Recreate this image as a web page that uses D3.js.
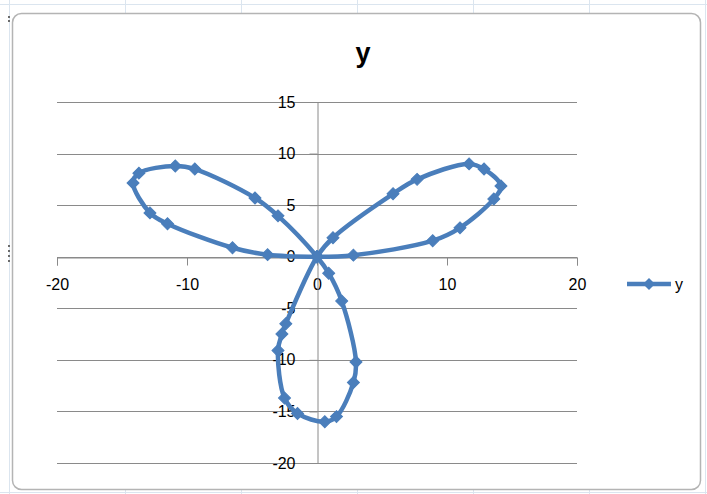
<!DOCTYPE html>
<html>
<head>
<meta charset="utf-8">
<script src="https://cdn.jsdelivr.net/npm/d3@7"></script>
<style>
  html, body { margin: 0; padding: 0; background: #fff; }
  svg { display: block; }
  text { font-family: "Liberation Sans", Arial, sans-serif; fill: #000; }
</style>
</head>
<body>
<svg id="chart" width="707" height="494"></svg>
<script>
// Three-leaf rose, traced point by point: right leaf, bottom leaf, left leaf.
const seriesName = "y";
const xValues = [
  0, 2.8, 8.9, 11.0, 13.6, 14.15, 12.85, 11.7, 7.7, 5.85, 1.23, 0,
  -2.4, -2.7, -3.0, -2.5, -1.5, 0.6, 1.5, 2.8, 3.0, 1.9, 0.9, 0,
  -3.0, -4.77, -9.4, -10.9, -13.7, -14.15, -12.85, -11.5, -6.5, -3.8, 0
];
const yValues = [
  0, 0.15, 1.55, 2.8, 5.6, 6.86, 8.5, 9.0, 7.5, 6.1, 1.84, 0,
  -6.5, -7.5, -9.1, -13.7, -15.2, -16.0, -15.5, -12.2, -10.2, -4.3, -1.6, 0,
  3.96, 5.7, 8.5, 8.8, 8.1, 7.15, 4.25, 3.2, 0.87, 0.2, 0
];
const xTicks = [-20, -10, 0, 10, 20];
const yTicks = [15, 10, 5, 0, -5, -10, -15, -20];

const points = xValues.map((x, i) => ({ x, y: yValues[i] }));

const svg = d3.select("#chart");
const blue = "#4A7EBB";
const gridColor = "#8a8a8a";
const plainNumber = d => String(d);

// worksheet cells behind the chart object
const sheet = svg.append("g").attr("stroke", "#dbe5ef").attr("stroke-width", 1);
[9, 125, 241, 357, 473, 589, 705].forEach(cx => {
  sheet.append("line").attr("x1", cx + 0.5).attr("x2", cx + 0.5).attr("y1", 0).attr("y2", 494);
});
[4, 492].forEach(cy => {
  sheet.append("line").attr("x1", 0).attr("x2", 707).attr("y1", cy + 0.5).attr("y2", cy + 0.5);
});

// chart area
svg.append("rect")
  .attr("x", 12.5).attr("y", 13.5)
  .attr("width", 688).attr("height", 476)
  .attr("rx", 9).attr("ry", 9)
  .attr("fill", "#fff")
  .attr("stroke", "#b4b4b4")
  .attr("stroke-width", 1.5);

// selection handles on the chart frame
const handles = svg.append("g").attr("fill", "#6b6b6b");
[[8, 16], [8, 20], [8, 245], [8, 250], [8, 255], [8, 260]].forEach(([hx, hy]) => {
  handles.append("rect").attr("x", hx).attr("y", hy).attr("width", 2).attr("height", 2);
});

const x = d3.scaleLinear().domain([-20, 20]).range([57, 577]);
const y = d3.scaleLinear().domain([-20, 15]).range([463, 102]);

// horizontal gridlines
svg.append("g")
  .selectAll("line")
  .data(yTicks)
  .join("line")
  .attr("x1", x(-20)).attr("x2", x(20))
  .attr("y1", d => Math.round(y(d)) + 0.5)
  .attr("y2", d => Math.round(y(d)) + 0.5)
  .attr("stroke", gridColor)
  .attr("stroke-width", 1);

// x axis through y = 0
const xAxis = d3.axisBottom(x).tickValues(xTicks).tickSize(8).tickPadding(13).tickFormat(plainNumber);
const gx = svg.append("g")
  .attr("transform", `translate(0,${Math.round(y(0)) + 0.5})`)
  .call(xAxis);
gx.select(".domain").attr("stroke", gridColor);
gx.selectAll(".tick line").attr("stroke", gridColor);
gx.selectAll(".tick text")
  .attr("font-size", 16)
  .attr("fill", "#000")
  .style("font-family", "'Liberation Sans', Arial, sans-serif");

// y axis through x = 0
const yAxis = d3.axisLeft(y).tickValues(yTicks).tickSize(8).tickPadding(14).tickFormat(plainNumber);
const gy = svg.append("g")
  .attr("transform", `translate(${Math.round(x(0)) + 0.5},0)`)
  .call(yAxis);
gy.select(".domain").attr("stroke", gridColor);
gy.selectAll(".tick line").attr("stroke", gridColor);
gy.selectAll(".tick text")
  .attr("font-size", 16)
  .attr("fill", "#000")
  .style("font-family", "'Liberation Sans', Arial, sans-serif");

// smoothed series line
const line = d3.line()
  .x(d => x(d.x))
  .y(d => y(d.y))
  .curve(d3.curveCatmullRom.alpha(0.5));

svg.append("path")
  .datum(points)
  .attr("d", line)
  .attr("fill", "none")
  .attr("stroke", blue)
  .attr("stroke-width", 4.5)
  .attr("stroke-linejoin", "round");

// diamond markers
const diamond = d3.symbol().type(d3.symbolSquare).size(72);
svg.append("g")
  .selectAll("path")
  .data(points)
  .join("path")
  .attr("d", diamond)
  .attr("transform", d => `translate(${x(d.x)},${y(d.y)}) rotate(45)`)
  .attr("fill", blue)
  .attr("stroke", blue)
  .attr("stroke-width", 1);

// title
svg.append("text")
  .attr("x", 363).attr("y", 62)
  .attr("text-anchor", "middle")
  .attr("font-size", 27)
  .attr("font-weight", "bold")
  .text(seriesName);

// legend
const legend = svg.append("g").attr("transform", "translate(627,284)");
legend.append("line")
  .attr("x1", 0).attr("x2", 44).attr("y1", 0).attr("y2", 0)
  .attr("stroke", blue).attr("stroke-width", 4.5);
legend.append("path")
  .attr("d", diamond)
  .attr("transform", "translate(22,0) rotate(45)")
  .attr("fill", blue);
legend.append("text")
  .attr("x", 48).attr("y", 6)
  .attr("font-size", 16)
  .text(seriesName);
</script>
</body>
</html>
